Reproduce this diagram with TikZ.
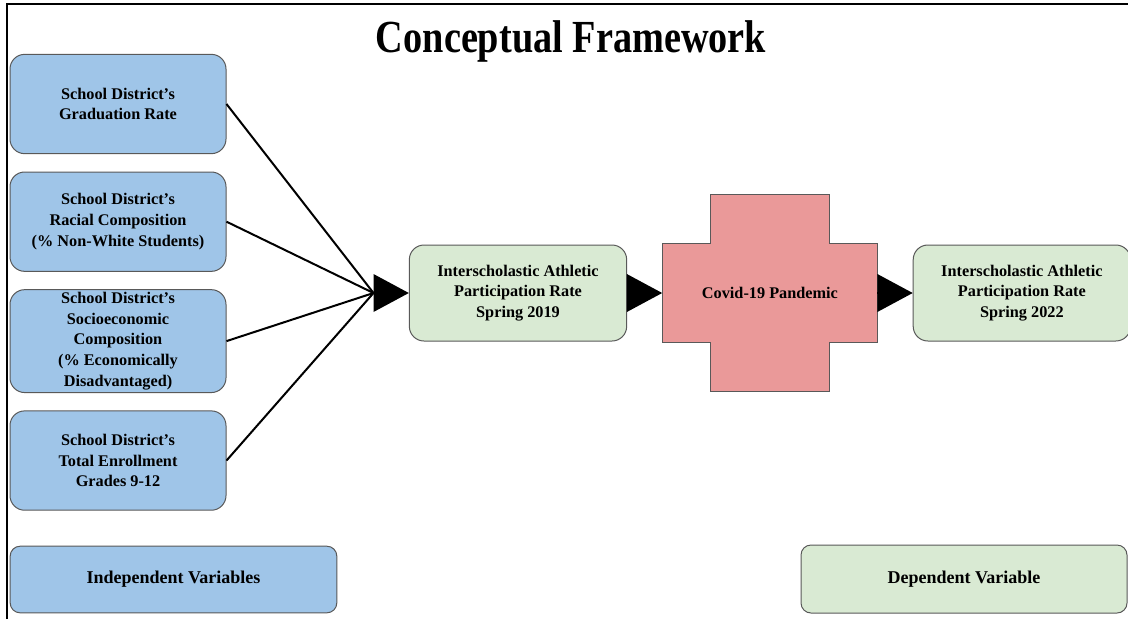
\documentclass[tikz,border=0pt]{standalone}
\usepackage{fontspec}
\setmainfont{Liberation Serif}
\usetikzlibrary{arrows.meta,positioning,calc,backgrounds}
\definecolor{ivblue}{HTML}{9FC5E8}
\definecolor{dvgreen}{HTML}{D9EAD3}
\definecolor{covidred}{HTML}{EA9999}
\definecolor{edgegray}{HTML}{595959}

\begin{document}
\begin{tikzpicture}[
  x=0.75pt,y=-0.75pt,
  font=\fontsize{12.2}{15.5}\selectfont\bfseries,
  node distance=13pt,
  ivbox/.style={draw=edgegray,line width=0.75pt,rounded corners=11pt,fill=ivblue,
    align=center,minimum width=162pt,minimum height=74.5pt,inner sep=2pt},
  dvbox/.style={ivbox,fill=dvgreen,minimum width=163pt,minimum height=72pt},
  keybox/.style={draw=edgegray,line width=0.75pt,rounded corners=7.5pt,
    font=\fontsize{13.5}{16}\selectfont\bfseries,
    align=center,minimum height=50pt,inner sep=2pt},
  crossbox/.style={draw=edgegray,line width=0.75pt,fill=covidred},
  link/.style={black,line width=1.5pt},
  bigtip/.style={-{Triangle[length=26.5pt,width=28.5pt,line width=0pt]},black,line width=1.5pt}
]
\useasboundingbox (0,0) rectangle (1128,619);
% frame
\draw[line width=1.5pt] (7,619) -- (7,4) -- (1128,4);
% title
\node[font=\fontsize{28.7}{30}\selectfont\bfseries,anchor=base] (title) at (571,52)
  {\scalebox{1}[1.2]{Conceptual Framework}};
% independent variables
\node[ivbox] (iv1) at (118,104) {School District's\\Graduation Rate};
\node[ivbox,below=of iv1] (iv2) {School District's\\Racial Composition\\(\% Non-White Students)};
\node[ivbox,below=of iv2] (iv3) {School District's\\Socioeconomic\\Composition\\(\% Economically\\Disadvantaged)};
\node[ivbox,below=of iv3] (iv4) {School District's\\Total Enrollment\\Grades 9-12};
% participation and pandemic
\coordinate (conv) at (373.5,293);
\node[dvbox,right=26.5pt of conv] (p19) {Interscholastic Athletic\\Participation Rate\\Spring 2019};
\node[inner sep=0pt,minimum width=161.25pt,minimum height=74.25pt,right=26.25pt of p19] (covid) {Covid-19 Pandemic};
\node[dvbox,right=26.25pt of covid] (p22) {Interscholastic Athletic\\Participation Rate\\Spring 2022};
\begin{scope}[on background layer]
\draw[crossbox,shift={(covid.center)}] (-59.5,-98.5) -- (59.5,-98.5) -- (59.5,-49.5)
  -- (107.5,-49.5) -- (107.5,49.5) -- (59.5,49.5) -- (59.5,98.5) -- (-59.5,98.5)
  -- (-59.5,49.5) -- (-107.5,49.5) -- (-107.5,-49.5) -- (-59.5,-49.5) -- cycle;
\end{scope}
% connectors
\foreach \v in {iv1,iv2,iv3,iv4}
  \draw[link] (\v.east) -- (conv);
\draw[bigtip] (conv) -- (p19.west);
\draw[bigtip] (p19.east) -- (covid.west);
\draw[bigtip] (covid.east) -- (p22.west);
% legend
\node[keybox,fill=ivblue,minimum width=245pt] (ivkey) at (173.5,579.5) {Independent Variables};
\node[keybox,fill=dvgreen,minimum width=244.5pt,minimum height=51pt] (dvkey) at (964,579) {Dependent Variable};
\end{tikzpicture}
\end{document}
